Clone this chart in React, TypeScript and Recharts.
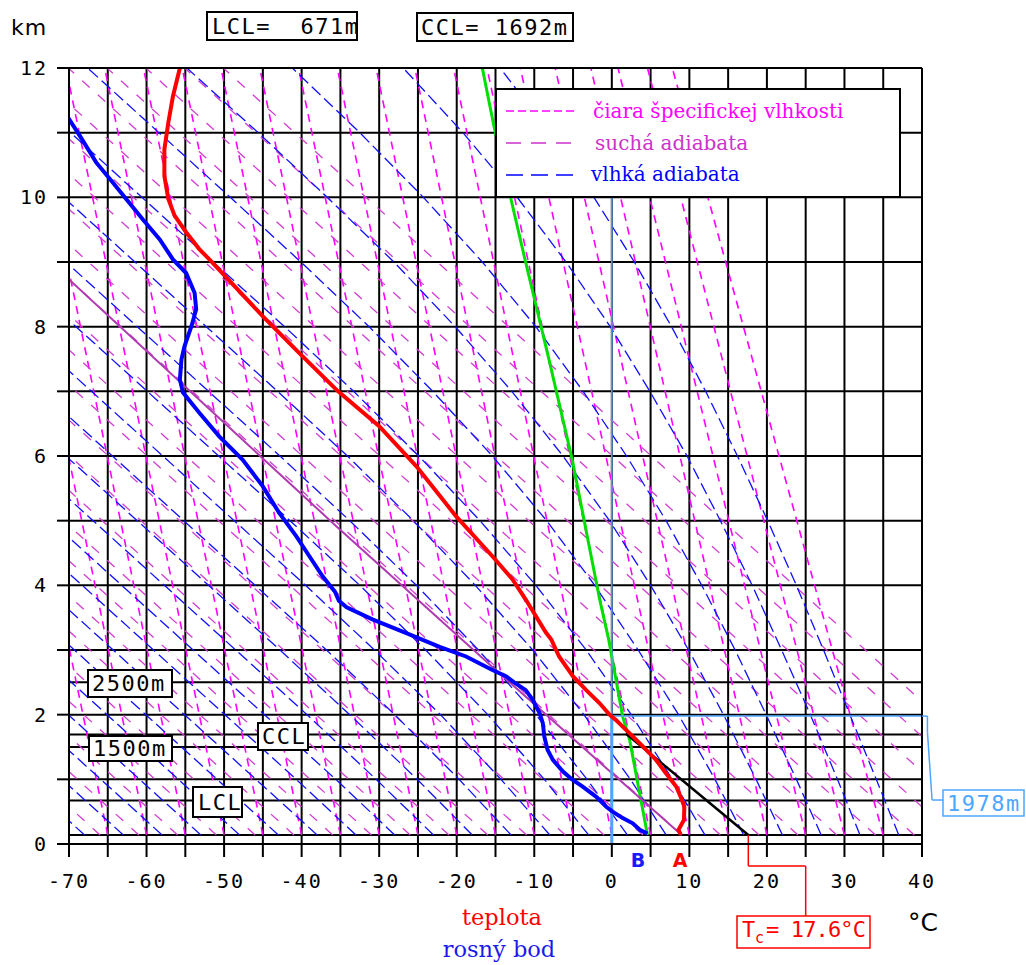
import React from 'react';
import { LineChart, Line, XAxis, YAxis, ReferenceLine } from 'recharts';

type Pt = [number, number]; // [temperature °C, height km]

// grid
const gridTemps = [-70, -65, -60, -55, -50, -45, -40, -35, -30, -25, -20, -15, -10, -5, 0, 5, 10, 15, 20, 25, 30, 35, 40];
const gridHeights = [0, 1, 2, 3, 4, 5, 6, 7, 8, 9, 10, 11, 12];
const levelHeights = [0.14, 0.671, 1.5, 1.692, 2.5];

// čiary špecifickej vlhkosti (bottom / top temperature)
const mixingBottomT = [-65, -60, -55, -50, -45, -40, -35, -30, -25, -20, -15, -10, -5, 0, 5, 10, 15, 20, 25, 30, 35];
const mixingTopT = [-85.4, -80.4, -75.4, -70.4, -65.4, -60.4, -55.4, -50.4, -45.4, -40.4, -35.4, -30.4, -25.4, -20.4, -16.1, -11.8, -7.3, -2.7, 0.8, 4.6, 7.8];

// suché adiabaty
const dryBottomT = [-66, -61, -56, -51, -46, -41, -36, -31, -26, -21, -16, -11, -6, -1, 4, 9, 14, 19, 24, 29, 34, 39, 44, 49, 54, 59];
const dryTopT = [-175.1, -170.1, -165.1, -160.1, -155.1, -150.1, -145.1, -140.1, -135.1, -130.1, -125.1, -120.1, -115.1, -110.1, -105.1, -100.1, -95.1, -90.1, -85.1, -80.1, -75.1, -70.1, -65.1, -60.1, -55.1, -50.1];

// vlhké adiabaty: temperatures at moistHeights
const moistHeights = [0.14, 1, 2, 3, 4, 5, 6, 7, 8, 9, 10, 11, 12];
const moistTemps = [
  [37, 34.1, 30.7, 27.3, 23.8, 20.1, 16.2, 12.1, 7.7, 2.9, -2.3, -8.0, -14.4],
  [32, 29.1, 25.6, 21.9, 18.1, 14.0, 9.7, 4.9, -0.2, -5.9, -12.2, -19.2, -26.9],
  [27, 23.8, 19.9, 15.9, 11.6, 7.0, 1.9, -3.7, -9.8, -16.7, -24.3, -32.5, -41.2],
  [22, 18.6, 14.4, 9.9, 5.0, -0.3, -6.3, -12.9, -20.2, -28.1, -36.7, -45.6, -54.8],
  [17, 13.3, 8.6, 3.4, -2.2, -8.4, -15.4, -23.1, -31.3, -40.1, -49.2, -58.4, -67.6],
  [12, 7.8, 2.5, -3.3, -9.8, -17.0, -24.9, -33.3, -42.2, -51.4, -60.6, -69.8, -79.0],
  [7, 2.4, -3.6, -10.2, -17.6, -25.6, -34.1, -43.1, -52.3, -61.5, -70.7],
  [2, -3.2, -9.8, -17.2, -25.2, -33.8, -42.8, -52.0, -61.2, -70.4],
  [-3, -8.7, -16.0, -24.0, -32.5, -41.5, -50.7, -59.9, -69.1, -78.3],
  [-8, -14.3, -22.1, -30.6, -39.5, -48.7, -57.9, -67.1, -76.3],
  [-13, -19.7, -28.0, -36.8, -46.0, -55.2, -64.4, -73.6],
  [-18, -25.1, -33.8, -42.8, -52.0, -61.2, -70.4],
  [-23, -30.4, -39.3, -48.5, -57.7, -66.9, -76.1],
  [-28, -35.6, -44.8, -54.0, -63.2, -72.4],
  [-33, -40.7, -49.9, -59.1, -68.3, -77.5],
  [-38, -45.9, -55.1, -64.3, -73.5],
  [-43, -50.9, -60.1, -69.3, -78.5],
  [-48, -55.9, -65.1, -74.3],
  [-53, -60.9, -70.1],
  [-58, -65.9, -75.1],
  [-63, -70.9],
  [-68, -75.9],
];

// teplota
const temperature: Pt[] = [
  [8.9, 0.14], [8.6, 0.22], [9.3, 0.37], [9.35, 0.58], [9.05, 0.68], [8.3, 0.89], [7.0, 1.09], [5.7, 1.3],
  [4.0, 1.51], [2.3, 1.71], [0.5, 1.92], [-0.3, 2.0], [-1.6, 2.18], [-3.3, 2.38], [-5.0, 2.59], [-6.8, 2.9],
  [-7.8, 3.16], [-8.5, 3.27], [-11.1, 3.78], [-12.8, 4.09], [-15.4, 4.45], [-20.1, 5.07], [-25.2, 5.84],
  [-30.0, 6.46], [-35.3, 7.0], [-40.3, 7.59], [-45.0, 8.16], [-51.9, 9.04], [-53.2, 9.2], [-54.9, 9.46],
  [-56.4, 9.72], [-57.2, 9.98], [-57.7, 10.33], [-57.7, 10.74], [-57.2, 11.15], [-56.6, 11.56], [-55.7, 12.0],
];

// rosný bod
const dewPoint: Pt[] = [
  [4.6, 0.16], [3.6, 0.22], [2.7, 0.32], [1.4, 0.4], [0.1, 0.5], [-0.75, 0.58], [-2.0, 0.73], [-3.8, 0.89],
  [-5.05, 0.99], [-6.3, 1.12], [-7.6, 1.3], [-8.3, 1.46], [-8.7, 1.66], [-8.9, 1.87], [-9.3, 2.02], [-10.2, 2.23],
  [-11.1, 2.38], [-12.6, 2.5], [-13.6, 2.59], [-15.4, 2.69], [-18.8, 2.9], [-22.2, 3.05], [-26.5, 3.26],
  [-30.8, 3.47], [-34.2, 3.66], [-35.2, 3.76], [-35.7, 3.9], [-37.3, 4.14], [-39.0, 4.45], [-40.7, 4.76], [-42.9, 5.12],
  [-45.0, 5.53], [-47.6, 5.94], [-50.6, 6.3], [-53.2, 6.67], [-55.3, 6.98], [-55.7, 7.18], [-55.5, 7.49],
  [-55.1, 7.7], [-54.2, 8.01], [-53.6, 8.27], [-53.8, 8.52], [-54.9, 8.83], [-56.6, 9.04], [-58.3, 9.35],
  [-60.5, 9.66], [-62.6, 9.97], [-64.3, 10.22], [-66.5, 10.54], [-68.6, 10.95], [-70.1, 11.23],
];

const dewMixingLine: Pt[] = [
  [4.6, 0.14], [3.5, 0.84], [2.3, 1.61], [1.4, 1.97], [-0.4, 3.16], [-1.6, 3.8], [-5.1, 5.94],
  [-8.1, 7.49], [-11.2, 9.04], [-13.0, 9.97], [-15.2, 11.1], [-16.7, 12],
];
const surfaceDryAdiabat: Pt[] = [[9.0, 0.14], [-14.5, 2.64], [-35.5, 4.91], [-70, 8.73]];
const convectiveDryAdiabat: Pt[] = [[1.8, 1.71], [17.6, 0.14]];
const zeroLower: Pt[] = [[0, 0], [0, 1.978]];
const zeroUpper: Pt[] = [[0, 1.978], [0, 10]];
const level1978: Pt[] = [[0, 1.978], [40, 1.978]];
const level1978Lead: Pt[] = [[40, 1.978], [40.7, 1.978], [40.7, 1.73], [41.3, 0.68], [42.8, 0.68]];
const tcLead: Pt[] = [[17.6, 0.14], [17.6, -0.34], [25.0, -0.34], [25.0, -1.11]];

const mono = "'DejaVu Sans Mono', monospace";
const serif = "'DejaVu Serif', serif";
const sans = "'DejaVu Sans', sans-serif";
const LIGHT_BLUE = '#4da6ff';

const toRows = (pts: Pt[]) => pts.map(([t, z]) => ({ t, z }));

const curve = (key: string, pts: Pt[], stroke: string, width: number, dash?: string) => (
  <Line
    key={key}
    data={toRows(pts)}
    dataKey="z"
    type="linear"
    stroke={stroke}
    strokeWidth={width}
    strokeDasharray={dash}
    dot={false}
    activeDot={false}
    isAnimationActive={false}
  />
);

const leads = (key: string, pts: Pt[], stroke: string) =>
  pts.slice(1).map((p, i) => (
    <ReferenceLine
      key={`${key}-${i}`}
      segment={[{ x: pts[i][0], y: pts[i][1] }, { x: p[0], y: p[1] }]}
      stroke={stroke}
      strokeWidth={1.5}
      ifOverflow="visible"
    />
  ));

const XTick = ({ x, y, payload }: any) =>
  payload.value % 10 === 0 ? (
    <text x={x} y={y + 31} textAnchor="middle" fontFamily={mono} fontSize={20} letterSpacing={2} fill="#000">
      {payload.value}
    </text>
  ) : (
    <g />
  );

const YTick = ({ x, y, payload }: any) =>
  payload.value % 2 === 0 ? (
    <text x={x - 9} y={y + 7} textAnchor="end" fontFamily={mono} fontSize={20} letterSpacing={2} fill="#000">
      {payload.value}
    </text>
  ) : (
    <g />
  );

const Box = ({ x, y, w, h, text, tx, ty, color = '#000', border = 2 }: any) => (
  <g>
    <rect x={x} y={y} width={w} height={h} fill="#fff" stroke={color} strokeWidth={border} />
    <text x={tx} y={ty} fontFamily={mono} fontSize={22} letterSpacing={1.5} fill={color} style={{ whiteSpace: 'pre' }}>
      {text}
    </text>
  </g>
);

export default function App() {
  const grid = [
    ...gridTemps.map((t) => curve(`gv${t}`, [[t, 0], [t, 12]], '#000', 2)),
    ...gridHeights.map((z) => curve(`gh${z}`, [[-70, z], [40, z]], '#000', 2)),
    ...levelHeights.map((z) => curve(`gl${z}`, [[-70, z], [40, z]], '#000', 2)),
  ];
  const mixing = mixingBottomT.map((t, i) => curve(`mx${i}`, [[t, 0.14], [mixingTopT[i], 12]], '#ff00ff', 1.6, '8 6'));
  const dry = dryBottomT.map((t, i) => curve(`dr${i}`, [[t, 0.14], [dryTopT[i], 12]], '#d23cd2', 1.3, '10 11'));
  const moist = moistTemps.map((row, i) =>
    curve(`ms${i}`, row.map((t, j) => [t, moistHeights[j]] as Pt), '#1010ff', 1.3, '12 5'),
  );

  return (
    <div style={{ position: 'relative', width: 1026, height: 965, overflow: 'hidden' }}>
      <style>{'body{margin:0;overflow:hidden}'}</style>
      <LineChart width={1026} height={965} margin={{ top: 68, right: 104, bottom: 91, left: 0 }}>
        <XAxis
          dataKey="t"
          type="number"
          domain={[-70, 40]}
          ticks={gridTemps}
          interval={0}
          allowDataOverflow
          tickSize={13}
          tickMargin={0}
          height={30}
          axisLine={{ stroke: '#000', strokeWidth: 2 }}
          tickLine={{ stroke: '#000', strokeWidth: 2 }}
          tick={<XTick />}
        />
        <YAxis
          type="number"
          domain={[0, 12]}
          ticks={gridHeights}
          interval={0}
          allowDataOverflow
          tickSize={12}
          tickMargin={0}
          width={69}
          axisLine={{ stroke: '#000', strokeWidth: 2 }}
          tickLine={{ stroke: '#000', strokeWidth: 2 }}
          tick={<YTick />}
        />
        {grid}
        {mixing}
        {dry}
        {moist}
        {curve('green', dewMixingLine, '#00e000', 3)}
        {curve('purple', surfaceDryAdiabat, '#b03ab0', 2)}
        {curve('zeroLower', zeroLower, LIGHT_BLUE, 3)}
        {curve('zeroUpper', zeroUpper, LIGHT_BLUE, 1.5)}
        {curve('level1978', level1978, LIGHT_BLUE, 1.5)}
        {curve('tc', convectiveDryAdiabat, '#000', 2.5)}
        {curve('dew', dewPoint, '#0000ff', 4)}
        {curve('temp', temperature, '#ff0000', 4)}
        <ReferenceLine x={40} stroke="#000" strokeWidth={2} ifOverflow="visible" />
        <ReferenceLine y={12} stroke="#000" strokeWidth={2} ifOverflow="visible" />
        {leads('l1978', level1978Lead, LIGHT_BLUE)}
        {leads('ltc', tcLead, '#ff0000')}
      </LineChart>

      <svg width={1026} height={965} style={{ position: 'absolute', left: 0, top: 0, pointerEvents: 'none' }}>
        <text x={11} y={35} fontFamily={sans} fontSize={22} letterSpacing={1} fill="#000">km</text>
        <Box x={207} y={12} w={150} h={28} text="LCL=  671m" tx={212} ty={34} />
        <Box x={417} y={13} w={156} h={28} text="CCL= 1692m" tx={421} ty={35} />

        <rect x={496} y={89} width={404} height={108} fill="#fff" stroke="#000" strokeWidth={2} />
        <line x1={506} y1={111} x2={577} y2={111} stroke="#ff00ff" strokeWidth={1.5} strokeDasharray="8 4" />
        <text x={593} y={118} fontFamily={serif} fontSize={20} fill="#ff00ff">čiara špecifickej vlhkosti</text>
        <line x1={506} y1={143} x2={571} y2={143} stroke="#cc33cc" strokeWidth={1.5} strokeDasharray="15 10" />
        <text x={595} y={150} fontFamily={serif} fontSize={20} fill="#cc33cc">suchá adiabata</text>
        <line x1={506} y1={175} x2={578} y2={175} stroke="#0000ff" strokeWidth={1.5} strokeDasharray="17 8" />
        <text x={591} y={181} fontFamily={serif} fontSize={20} fill="#0000ff">vlhká adiabata</text>

        <Box x={88} y={670} w={84} h={27} text="2500m" tx={92} ty={691} />
        <Box x={89} y={736} w={83} h={25} text="1500m" tx={93} ty={756} />
        <Box x={258} y={723} w={50} h={27} text="CCL" tx={262} ty={744} />
        <Box x={193} y={787} w={49} h={30} text="LCL" tx={198} ty={810} />
        <Box x={943} y={790} w={81} h={26} text="1978m" tx={947} ty={811} color={LIGHT_BLUE} border={1.5} />

        <rect x={737} y={916} width={133} height={32} fill="#fff" stroke="#ff0000" strokeWidth={1.5} />
        <text x={742} y={937} fontFamily={mono} fontSize={22} fill="#ff0000">T</text>
        <text x={755} y={943} fontFamily={mono} fontSize={15} fill="#ff0000">c</text>
        <text x={766} y={937} fontFamily={mono} fontSize={22} fill="#ff0000" textLength={100} lengthAdjust="spacing" style={{ whiteSpace: 'pre' }}>
          = 17.6°C
        </text>

        <text x={680} y={867} textAnchor="middle" fontFamily={sans} fontWeight="bold" fontSize={19} fill="#ff0000">A</text>
        <text x={638} y={867} textAnchor="middle" fontFamily={sans} fontWeight="bold" fontSize={19} fill="#1a1aff">B</text>
        <text x={502} y={925} textAnchor="middle" fontFamily={serif} fontSize={22.5} fill="#ff0000">teplota</text>
        <text x={499} y={957} textAnchor="middle" fontFamily={serif} fontSize={22.5} fill="#1a1aee">rosný bod</text>
        <text x={908} y={931} fontFamily={sans} fontSize={25} fill="#000">°C</text>
      </svg>
    </div>
  );
}
